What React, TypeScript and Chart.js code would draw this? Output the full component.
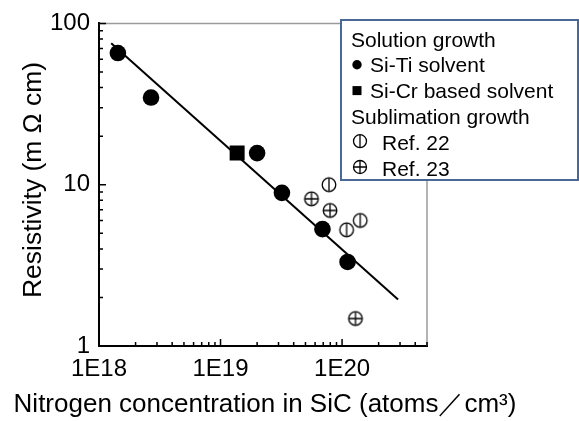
import React, { useEffect, useRef } from 'react';
import { Chart, registerables } from 'chart.js';

Chart.register(...registerables);

// ---- data ----
const siTiX = [1.43e18, 2.68e18, 2.0e19, 3.2e19, 6.9e19, 1.11e20];
const siTiY = [65.5, 34.7, 15.7, 8.9, 5.3, 3.32];
const siCrX = [1.37e19];
const siCrY = [15.7];
const ref22X = [7.8e19, 1.41e20, 1.09e20];
const ref22Y = [10.0, 6.0, 5.25];
const ref23X = [5.6e19, 7.96e19, 1.29e20];
const ref23Y = [8.17, 6.92, 1.48];
const fitX = [1.26e18, 2.89e20];
const fitY = [75.4, 1.94];

const xLabelDecades = [18, 19, 20];
const yLabelValues = [1, 10, 100];

const xTitle = 'Nitrogen concentration in SiC (atoms／cm³)';
const yTitle = 'Resistivity (m Ω cm)';
const legendRows = [
  { kind: 'header', text: 'Solution growth' },
  { kind: 'circle', text: 'Si-Ti solvent' },
  { kind: 'square', text: 'Si-Cr based solvent' },
  { kind: 'header', text: 'Sublimation growth' },
  { kind: 'ref22', text: 'Ref. 22' },
  { kind: 'ref23', text: 'Ref. 23' },
];

const FONT = '"Liberation Sans", Arial, Helvetica, sans-serif';

function pts(xs: number[], ys: number[]) {
  return xs.map((x, i) => ({ x, y: ys[i] }));
}

function drawRefSymbol(g: CanvasRenderingContext2D, cx: number, cy: number, r: number, plus: boolean) {
  g.save();
  g.lineWidth = 1.3;
  g.strokeStyle = '#000';
  g.fillStyle = '#fff';
  g.beginPath();
  g.arc(cx, cy, r, 0, Math.PI * 2);
  g.fill();
  g.stroke();
  g.beginPath();
  g.moveTo(cx, cy - r);
  g.lineTo(cx, cy + r);
  if (plus) {
    g.moveTo(cx - r, cy);
    g.lineTo(cx + r, cy);
  }
  g.stroke();
  g.restore();
}

function makeMarker(plus: boolean) {
  const c = document.createElement('canvas');
  c.width = 18;
  c.height = 18;
  const g = c.getContext('2d')!;
  drawRefSymbol(g, 9, 9, 6.8, plus);
  return c;
}

const isDecade = (v: number) => Math.abs(Math.log10(v) - Math.round(Math.log10(v))) < 1e-6;

const frame = {
  id: 'frame',
  beforeDatasetsDraw(chart: any) {
    const { ctx, chartArea: a } = chart;
    ctx.save();
    ctx.strokeStyle = '#9a9a9a';
    ctx.lineWidth = 1.5;
    ctx.beginPath();
    ctx.moveTo(a.left, a.top);
    ctx.lineTo(a.right, a.top);
    ctx.lineTo(a.right, a.bottom);
    ctx.stroke();
    ctx.restore();
  },
  afterDraw(chart: any) {
    const { ctx, chartArea: a, scales } = chart;
    const xs = scales.x;
    const ys = scales.y;
    ctx.save();
    // inward ticks
    ctx.strokeStyle = '#000';
    ctx.lineWidth = 1.5;
    ctx.beginPath();
    for (let e = 18; e <= 20; e++) {
      for (let m = 1; m <= 9; m++) {
        const v = m * Math.pow(10, e);
        if (v < xs.min * 0.999 || v > xs.max * 1.001) continue;
        const px = xs.getPixelForValue(v);
        const len = m === 1 ? 7 : 4;
        ctx.moveTo(px, a.bottom);
        ctx.lineTo(px, a.bottom - len);
      }
    }
    for (let e = 0; e <= 2; e++) {
      for (let m = 1; m <= 9; m++) {
        const v = m * Math.pow(10, e);
        if (v < ys.min * 0.999 || v > ys.max * 1.001) continue;
        const py = ys.getPixelForValue(v);
        const len = m === 1 ? 7 : 4;
        ctx.moveTo(a.left, py);
        ctx.lineTo(a.left + len, py);
      }
    }
    ctx.stroke();

    // axis titles
    ctx.fillStyle = '#000';
    ctx.font = `26px ${FONT}`;
    ctx.textAlign = 'center';
    ctx.textBaseline = 'alphabetic';
    ctx.fillText(xTitle, 265, 412);
    ctx.save();
    ctx.translate(41, 180);
    ctx.rotate(-Math.PI / 2);
    ctx.font = `26.5px ${FONT}`;
    ctx.fillText(yTitle, 0, 0);
    ctx.restore();

    // legend box
    const lx = 341, ly = 20, lw = 237, lh = 160;
    ctx.fillStyle = '#fff';
    ctx.fillRect(lx, ly, lw, lh);
    ctx.strokeStyle = '#4a6896';
    ctx.lineWidth = 2;
    ctx.strokeRect(lx, ly, lw, lh);
    ctx.font = `21px ${FONT}`;
    ctx.textAlign = 'left';
    ctx.fillStyle = '#000';
    const baseY = 46.5;
    const step = 25.8;
    legendRows.forEach((row, i) => {
      const by = baseY + i * step;
      const cy = by - 7.5;
      if (row.kind === 'header') {
        ctx.fillText(row.text, 351, by);
      } else if (row.kind === 'circle') {
        ctx.beginPath();
        ctx.arc(357, cy, 4.7, 0, Math.PI * 2);
        ctx.fill();
        ctx.fillText(row.text, 370, by);
      } else if (row.kind === 'square') {
        ctx.fillRect(352.5, cy - 4.5, 9, 9);
        ctx.fillText(row.text, 370, by);
      } else {
        drawRefSymbol(ctx, 360, cy - 1, 6.5, row.kind === 'ref23');
        ctx.fillStyle = '#000';
        ctx.fillText(row.text, 382, by);
      }
    });
    ctx.restore();
  },
};

export default function App() {
  const ref = useRef<HTMLCanvasElement>(null);
  useEffect(() => {
    if (!ref.current) return;
    const m22 = makeMarker(false);
    const m23 = makeMarker(true);
    const chart = new Chart(ref.current, {
      type: 'scatter',
      data: {
        datasets: [
          {
            label: 'fit',
            data: pts(fitX, fitY),
            showLine: true,
            borderColor: '#000',
            borderWidth: 2,
            pointRadius: 0,
            fill: false,
          } as any,
          {
            label: 'Si-Ti solvent',
            data: pts(siTiX, siTiY),
            pointStyle: 'circle',
            pointRadius: 8.3,
            backgroundColor: '#000',
            borderColor: '#000',
            borderWidth: 0,
          },
          {
            label: 'Si-Cr based solvent',
            data: pts(siCrX, siCrY),
            pointStyle: 'rect',
            pointRadius: 10.6,
            backgroundColor: '#000',
            borderColor: '#000',
            borderWidth: 0,
          },
          {
            label: 'Ref. 22',
            data: pts(ref22X, ref22Y),
            pointStyle: m22 as any,
          },
          {
            label: 'Ref. 23',
            data: pts(ref23X, ref23Y),
            pointStyle: m23 as any,
          },
        ],
      },
      options: {
        responsive: false,
        animation: false,
        events: [],
        layout: { padding: { top: 20, right: 152, left: 0, bottom: 0 } },
        plugins: { legend: { display: false }, tooltip: { enabled: false } },
        scales: {
          x: {
            type: 'logarithmic',
            min: 1e18,
            max: 5e20,
            grid: { display: false, drawTicks: false },
            border: { display: true, color: '#000', width: 2 },
            ticks: {
              autoSkip: false,
              maxRotation: 0,
              padding: 9,
              color: '#000',
              font: { family: FONT, size: 24 },
              callback: (v: any) => {
                const n = Number(v);
                if (!isDecade(n)) return '';
                const e = Math.round(Math.log10(n));
                return xLabelDecades.includes(e) ? '1E' + e : '';
              },
            },
            afterFit: (s: any) => {
              s.height = 75;
            },
          },
          y: {
            type: 'logarithmic',
            min: 1,
            max: 100,
            grid: { display: false, drawTicks: false },
            border: { display: true, color: '#000', width: 2 },
            ticks: {
              autoSkip: false,
              padding: 9,
              color: '#000',
              font: { family: FONT, size: 24 },
              callback: (v: any) => {
                const n = Number(v);
                const hit = yLabelValues.find((t) => Math.abs(t - n) < 1e-9);
                return hit !== undefined ? String(hit) : '';
              },
            },
            afterFit: (s: any) => {
              s.width = 99;
            },
          },
        },
      },
      plugins: [frame],
    });
    return () => chart.destroy();
  }, []);
  return (
    <div style={{ position: 'absolute', left: 0, top: 0, width: 579, height: 421, background: '#fff' }}>
      <canvas ref={ref} width={579} height={421} style={{ display: 'block' }} />
    </div>
  );
}
